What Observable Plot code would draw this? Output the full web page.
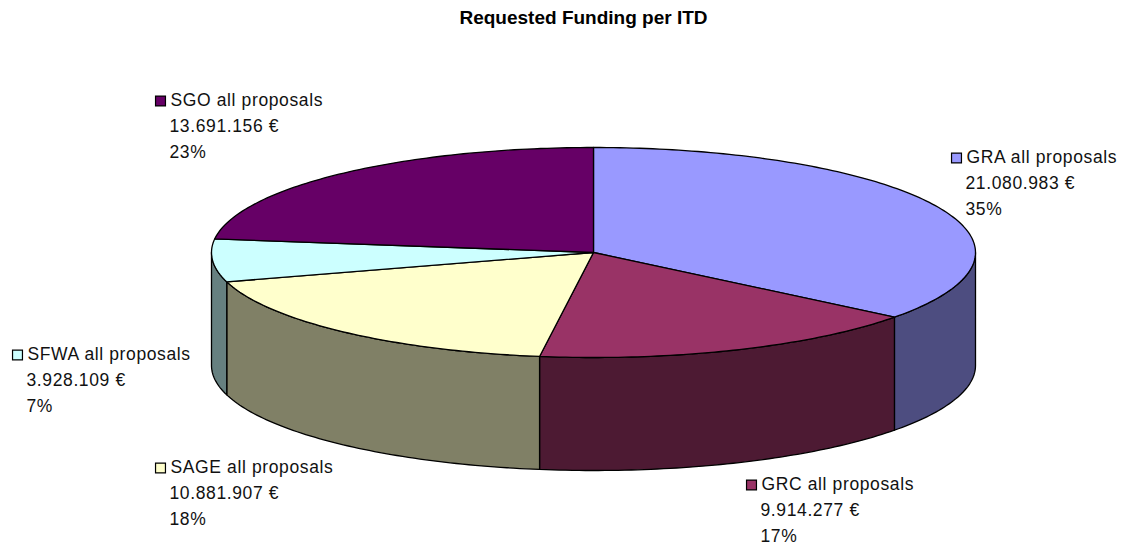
<!DOCTYPE html>
<html><head><meta charset="utf-8">
<script src="https://cdn.jsdelivr.net/npm/d3@7"></script>
<script src="https://cdn.jsdelivr.net/npm/@observablehq/plot@0.6"></script>
<style>html,body{margin:0;padding:0;background:#fff}svg{display:block}</style>
</head><body><div id="chart"></div>
<script>
const titleText = "Requested Funding per ITD";
const names = ["GRA all proposals","GRC all proposals","SAGE all proposals","SFWA all proposals","SGO all proposals"];
const amounts = [21080983, 9914277, 10881907, 3928109, 13691156];
const amountLabels = ["21.080.983 €","9.914.277 €","10.881.907 €","3.928.109 €","13.691.156 €"];
const percentLabels = ["35%","17%","18%","7%","23%"];
const topColors = ["#9999FF","#993366","#FFFFCC","#CCFFFF","#660066"];
const sideColors = ["#4D4D80","#4D1A33","#808066","#668080","#330033"];

// layout (separate from data)
const W = 1124, H = 548;
const pie = {cx: 593, cy: 252, rx: 382, ry: 105, depth: 113, skew: 0.01};
const labelAnchors = [[966,157],[761,484],[170,467],[27,354],[170,100]];
const lineGap = 26;
const swatchGap = 10;

const total = d3.sum(amounts);
let acc = 0;
const toAngle = f => {
  const a = f * 2 * Math.PI;
  return a + pie.skew * Math.sin(a / 2) ** 2;
};
const slices = amounts.map((v, i) => {
  const a0 = toAngle(acc / total); acc += v;
  return {i, a0, a1: toAngle(acc / total)};
});
const rim = (a, dy = 0) => ({x: pie.cx + pie.rx * Math.sin(a), y: pie.cy - pie.ry * Math.cos(a) + dy});
const arc = (a0, a1, dy = 0) => {
  const n = Math.max(2, Math.ceil((a1 - a0) / (Math.PI / 180)));
  return d3.range(n + 1).map(k => rim(a0 + (a1 - a0) * k / n, dy));
};
const topPoly = s => [{x: pie.cx, y: pie.cy}, ...arc(s.a0, s.a1), {x: pie.cx, y: pie.cy}];
const sidePoly = s => {
  const a0 = Math.max(s.a0, Math.PI / 2), a1 = Math.min(s.a1, 3 * Math.PI / 2);
  if (a1 <= a0) return null;
  const top = arc(a0, a1), bot = arc(a0, a1, pie.depth).reverse();
  return [...top, ...bot, top[0]];
};
const edge = {stroke: "#000", strokeWidth: 1.3, strokeLinejoin: "round", curve: "linear"};

const marks = [];
slices.forEach(s => {
  const p = sidePoly(s);
  if (p) marks.push(Plot.line(p, {x: "x", y: "y", fill: sideColors[s.i], ...edge}));
});
slices.forEach(s => marks.push(Plot.line(topPoly(s), {x: "x", y: "y", fill: topColors[s.i], ...edge})));

const labelRows = names.flatMap((n, i) => {
  const [x, y] = labelAnchors[i];
  return [
    {x, y, t: n},
    {x: x - 1, y: y + lineGap, t: amountLabels[i]},
    {x: x - 1, y: y + 2 * lineGap, t: percentLabels[i]}
  ];
});
marks.push(Plot.text(labelRows, {x: "x", y: "y", text: "t", textAnchor: "start", fill: "#111",
  fontFamily: "Liberation Sans", fontSize: 17.5, lineAnchor: "middle"}));
marks.push(Plot.dot(names.map((n, i) => ({x: labelAnchors[i][0] - swatchGap, y: labelAnchors[i][1] + 0.5, c: topColors[i]})), {
  x: "x", y: "y", symbol: "square", r: 5.6, fill: "c", stroke: "#000", strokeWidth: 1.2}));
marks.push(Plot.text([{x: 583, y: 17, t: titleText}], {x: "x", y: "y", text: "t", fill: "#000",
  fontFamily: "Liberation Sans", fontWeight: "bold", fontSize: 19, lineAnchor: "middle"}));

const chart = Plot.plot({
  width: W, height: H, margin: 0,
  x: {domain: [0, W], range: [0, W], axis: null},
  y: {domain: [0, H], range: [0, H], axis: null},
  color: {type: "identity"},
  style: {background: "#fff"},
  marks
});
d3.select(chart).selectAll("text").filter(function () {
  return this.textContent !== titleText;
}).style("letter-spacing", "0.62px");
document.getElementById("chart").append(chart);
</script></body></html>
